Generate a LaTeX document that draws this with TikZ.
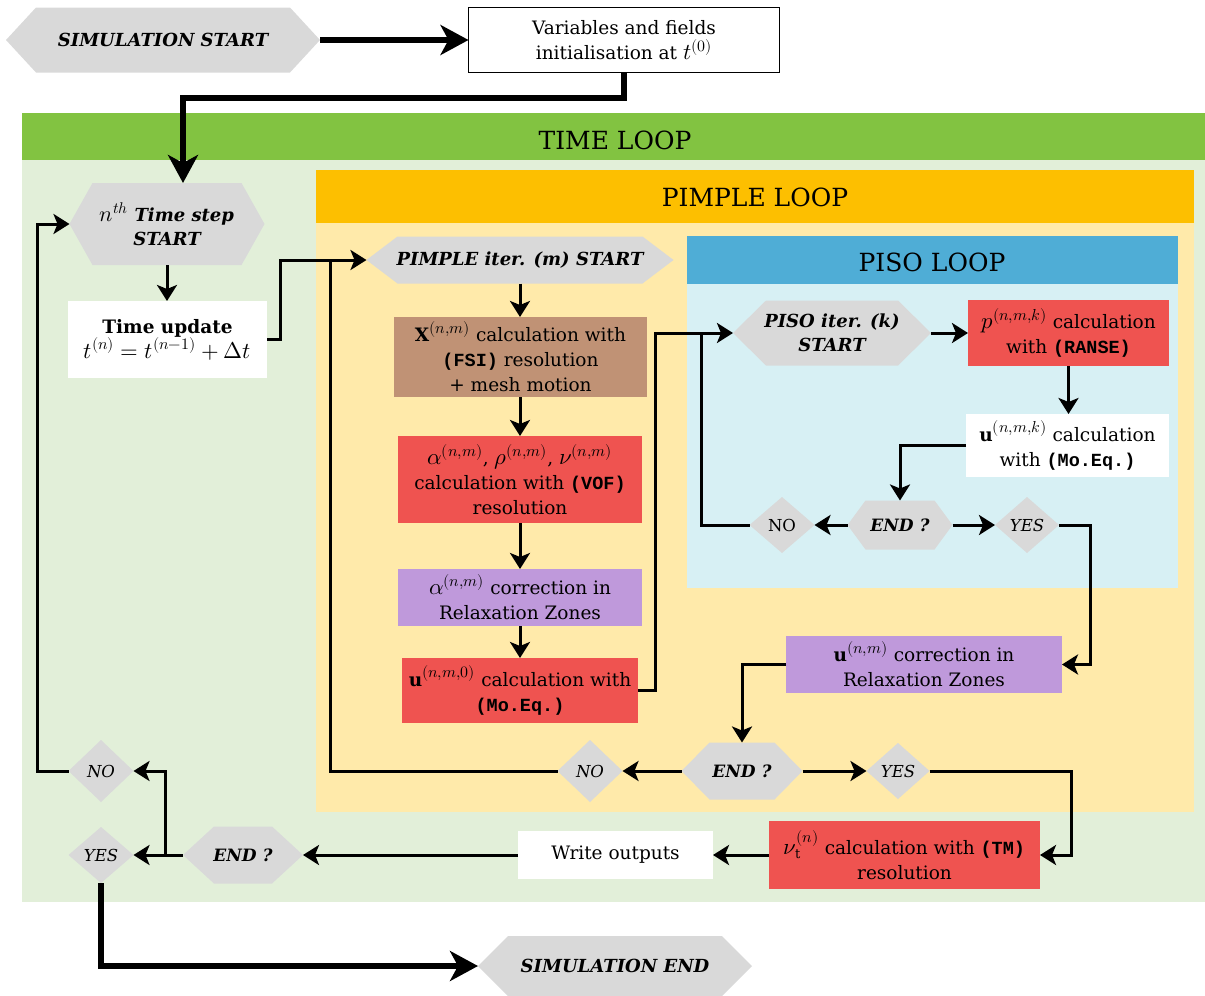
\documentclass[tikz,border=0pt]{standalone}
\usepackage{fontspec}
\usepackage{unicode-math}
\setmainfont{DejaVu Serif}
\setmathfont{Latin Modern Math}[Scale=1.23]
\newfontfamily\codefont{Liberation Mono}
\usetikzlibrary{arrows.meta}
\definecolor{tlhead}{RGB}{130,195,65}
\definecolor{tlbody}{RGB}{226,239,217}
\definecolor{plhead}{RGB}{253,191,0}
\definecolor{plbody}{RGB}{255,234,170}
\definecolor{pshead}{RGB}{79,173,214}
\definecolor{psbody}{RGB}{215,240,244}
\definecolor{hexgray}{RGB}{217,217,217}
\definecolor{boxred}{RGB}{239,83,80}
\definecolor{boxbrown}{RGB}{192,146,117}
\definecolor{boxpurple}{RGB}{191,153,219}
\newcommand\code[1]{{\codefont\bfseries #1}}
% name, x, y, w, h, d, text
\newcommand\hexnode[7]{%
  \fill[hexgray] ({#2-(#4)/2},#3) -- ({#2-(#4)/2+#6},{#3-(#5)/2}) -- ({#2+(#4)/2-#6},{#3-(#5)/2}) -- ({#2+(#4)/2},#3) -- ({#2+(#4)/2-#6},{#3+(#5)/2}) -- ({#2-(#4)/2+#6},{#3+(#5)/2}) -- cycle;
  \node[hexlabel, minimum width=#4, minimum height=#5] (#1) at (#2,#3) {#7};}
% name, x, y, w, h, text
\newcommand\dianode[6]{%
  \fill[hexgray] ({#2-(#4)/2},#3) -- (#2,{#3-(#5)/2}) -- ({#2+(#4)/2},#3) -- (#2,{#3+(#5)/2}) -- cycle;
  \node[dialabel, minimum width=#4, minimum height=#5] (#1) at (#2,#3) {#6};}
\tikzset{
  hexlabel/.style={inner sep=0pt, outer sep=0pt, align=center, font=\fontsize{18}{24}\selectfont\bfseries\itshape},
  dialabel/.style={inner sep=0pt, outer sep=0pt, align=center, font=\fontsize{16.5}{20}\selectfont\itshape},
  pbox/.style={inner sep=0pt, outer sep=0pt, align=center, font=\fontsize{18.5}{25}\selectfont},
  looptitle/.style={font=\fontsize{25}{30}\selectfont},
  conn/.style={line width=3pt, -{Stealth[length=16pt,width=20pt,inset=4pt]}},
  link/.style={line width=3pt},
  bigconn/.style={line width=6pt, -{Stealth[length=28pt,width=30pt,inset=8pt]}},
}
\begin{document}
\begin{tikzpicture}[x=1pt,y=-1pt]
\useasboundingbox (0,0) rectangle (1205,996);
% loop backgrounds
\fill[tlbody] (22,160) rectangle (1205,902);
\fill[tlhead] (22,113) rectangle (1205,160);
\node[looptitle] (tlt) at (615,140) {TIME LOOP};
\fill[plbody] (316,223) rectangle (1194,812);
\fill[plhead] (316,170) rectangle (1194,223);
\node[looptitle] (plt) at (755,197) {PIMPLE LOOP};
\fill[psbody] (687,284) rectangle (1178,588);
\fill[pshead] (687,236) rectangle (1178,284);
\node[looptitle] (pst) at (932,262) {PISO LOOP};
% hexagons
\hexnode{simstart}{163}{40}{314}{65}{30}{SIMULATION START}
\hexnode{ts}{167}{224}{195}{82}{23}{$n^{th}$ Time step\\START}
\hexnode{pi}{520}{260}{307}{47}{31}{PIMPLE iter. (m) START}
\hexnode{piso}{832}{333}{198}{65}{33}{PISO iter. (k)\\START}
\hexnode{end1}{900}{525}{105}{49}{18}{\fontsize{17}{20}\selectfont END ?}
\hexnode{end2}{742}{771}{121}{57}{28}{\fontsize{17}{20}\selectfont END ?}
\hexnode{end3}{243}{855}{120}{57}{31}{\fontsize{17}{20}\selectfont END ?}
\hexnode{simend}{615}{966}{274}{60}{30}{SIMULATION END}
% diamonds
\dianode{no1}{782}{525}{65}{56}{\upshape NO}
\dianode{yes1}{1027}{525}{64}{56}{YES}
\dianode{no2}{590}{771}{65}{62}{NO}
\dianode{yes2}{898}{771}{63}{56}{YES}
\dianode{no3}{101}{771}{65}{62}{NO}
\dianode{yes3}{101}{855}{65}{56}{YES}
% boxes
\node[pbox, draw=black, line width=1.5pt, fill=white, minimum width=311, minimum height=65] (init) at (624,40) {Variables and fields\\initialisation at $t^{(0)}$};
\node[pbox, fill=white, minimum width=199, minimum height=77] (tu) at (167.5,339.5) {\textbf{Time update}\\$t^{(n)} = t^{(n-1)} + \Delta t$};
\node[pbox, fill=boxbrown, minimum width=253, minimum height=80] (X) at (520.5,357) {$\mathbf{X}^{(n,m)}$ calculation with\\\code{(FSI)} resolution\\+ mesh motion};
\node[pbox, fill=boxred, minimum width=244, minimum height=87] (vof) at (520,479.5) {$\alpha^{(n,m)}$, $\rho^{(n,m)}$, $\nu^{(n,m)}$\\calculation with \code{(VOF)}\\resolution};
\node[pbox, fill=boxpurple, minimum width=244, minimum height=57] (ac) at (520,597.5) {$\alpha^{(n,m)}$ correction in\\Relaxation Zones};
\node[pbox, fill=boxred, minimum width=236, minimum height=65] (u0) at (520,690.5) {$\mathbf{u}^{(n,m,0)}$ calculation with\\\code{(Mo.Eq.)}};
\node[pbox, fill=boxred, minimum width=201, minimum height=66] (p) at (1068.5,333) {$p^{(n,m,k)}$ calculation\\with \code{(RANSE)}};
\node[pbox, fill=white, minimum width=203, minimum height=63] (u) at (1067.5,445.5) {$\mathbf{u}^{(n,m,k)}$ calculation\\with \code{(Mo.Eq.)}};
\node[pbox, fill=boxpurple, minimum width=276, minimum height=57] (ucorr) at (924,664.5) {$\mathbf{u}^{(n,m)}$ correction in\\Relaxation Zones};
\node[pbox, fill=boxred, minimum width=271, minimum height=68] (nu) at (904.5,855) {$\nu_{\mathrm{t}}^{(n)}$ calculation with \code{(TM)}\\resolution};
\node[pbox, fill=white, minimum width=195, minimum height=48] (write) at (615.5,855) {Write outputs};
% connectors
\draw[bigconn] (simstart.east) -- (init.west);
\coordinate (c1) at (183,98);
\draw[bigconn] (init.south) |- (c1) -- (c1 |- ts.north);
\draw[conn] (ts.south) -- (ts.south |- tu.north);
\draw[conn] (tu.east) -- ++(13,0) |- (pi.west);
\draw[conn] (pi.south) -- (pi.south |- X.north);
\draw[conn] (pi.south |- X.south) -- (pi.south |- vof.north);
\draw[conn] (pi.south |- vof.south) -- (pi.south |- ac.north);
\draw[conn] (pi.south |- ac.south) -- (pi.south |- u0.north);
\draw[conn] (u0.east) -- ++(17,0) |- (piso.west);
\draw[conn] (piso.east) -- (p.west);
\draw[conn] (p.south) -- (p.south |- u.north);
\draw[conn] (u.west) -| (end1.north);
\draw[conn] (end1.west) -- (no1.east);
\draw[conn] (end1.east) -- (yes1.west);
\coordinate (j1) at (701,333);
\draw[link] (no1.west) -| (j1);
\draw[conn] (yes1.east) -- ++(31,0) |- (ucorr.east);
\draw[conn] (ucorr.west) -| (end2.north);
\draw[conn] (end2.west) -- (no2.east);
\draw[conn] (end2.east) -- (yes2.west);
\coordinate (j2) at (330,260);
\draw[link] (no2.west) -| (j2);
\draw[conn] (yes2.east) -- ++(142,0) |- (nu.east);
\draw[conn] (nu.west) -- (write.east);
\draw[conn] (write.west) -- (end3.east);
\draw[conn] (end3.west) -- (yes3.east);
\coordinate (j3) at (165,855);
\draw[conn] (j3) |- (no3.east);
\draw[conn] (no3.west) -- ++(-31,0) |- (ts.west);
\draw[bigconn] (yes3.south) |- (simend.west);
\end{tikzpicture}
\end{document}
